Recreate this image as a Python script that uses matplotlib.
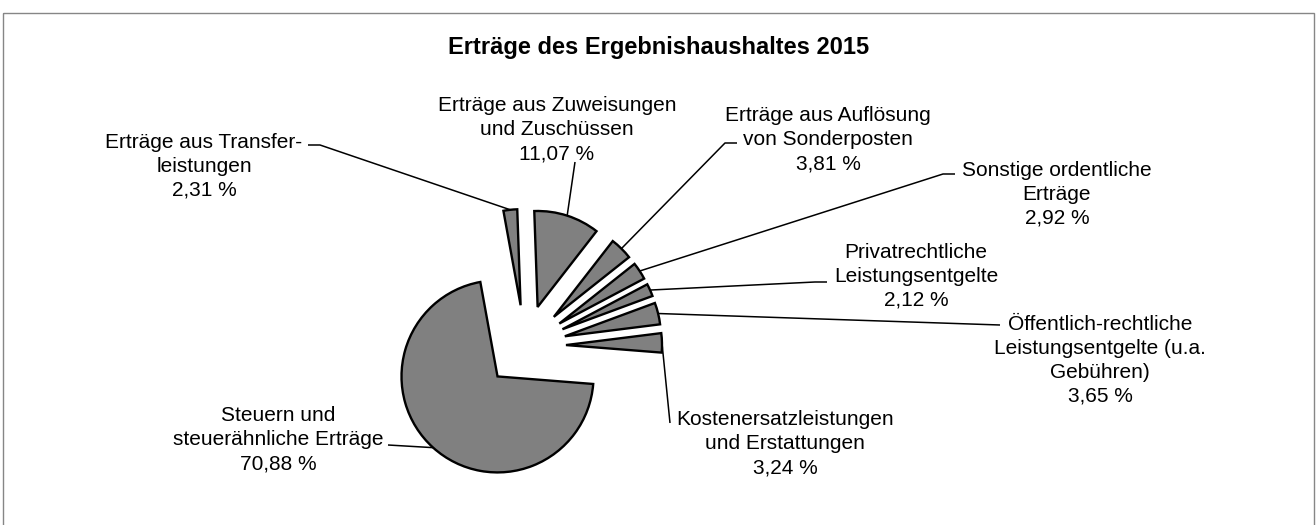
import numpy as np
import matplotlib.pyplot as plt
from matplotlib.patches import Rectangle

W, H = 1316, 525

# slices, clockwise starting near 12 o'clock
labels = [
    "Erträge aus Zuweisungen\nund Zuschüssen",
    "Erträge aus Auflösung\nvon Sonderposten",
    "Sonstige ordentliche\nErträge",
    "Privatrechtliche\nLeistungsentgelte",
    "Öffentlich-rechtliche\nLeistungsentgelte (u.a.\nGebühren)",
    "Kostenersatzleistungen\nund Erstattungen",
    "Steuern und\nsteuerähnliche Erträge",
    "Erträge aus Transfer-\nleistungen",
]
shares = [11.07, 3.81, 2.92, 2.12, 3.65, 3.24, 70.88, 2.31]
title = "Erträge des Ergebnishaushaltes 2015"

plt.rcParams['font.family'] = ['Liberation Sans', 'DejaVu Sans']

fig = plt.figure(figsize=(W / 100, H / 100), dpi=100)
ax = fig.add_axes([0, 0, 1, 1])

# work in pixel units, y axis pointing down (so pie angles are mirrored)
pie_center = (525, 346)
pie_radius = 96
explode_px = 41

wedges, _ = ax.pie(shares, center=pie_center, radius=pie_radius,
                   explode=[explode_px] * len(shares),
                   startangle=-92, counterclock=True,
                   colors=['#808080'] * len(shares),
                   wedgeprops=dict(edgecolor='black', linewidth=1.7))
ax.set_xlim(0, W)
ax.set_ylim(H, 0)
ax.set_aspect('auto')
ax.axis('off')

# label anchor (center x, baseline of last line) and leader route
text_pos = [(557, 159), (828, 169), (1057, 224), (916, 306),
            (1100, 402), (785, 473), (278, 469), (204, 196)]
routes = [
    [(575, 162)],
    [(725, 143), (737, 143)],
    [(943, 174), (955, 174)],
    [(815, 282), (827, 282)],
    [(1000, 325)],
    [(670, 423)],
    [(388, 445)],
    [(320, 145), (308, 145)],
]

for w, lab, val, (tx, ty), route in zip(wedges, labels, shares, text_pos, routes):
    mid = np.deg2rad((w.theta1 + w.theta2) / 2)
    x0 = w.center[0] + w.r * np.cos(mid)
    y0 = w.center[1] + w.r * np.sin(mid)
    xs = [x0] + [p[0] for p in route]
    ys = [y0] + [p[1] for p in route]
    ax.plot(xs, ys, color='black', lw=1.1, zorder=0.5, solid_capstyle='butt')
    txt = lab + "\n" + f"{val:.2f} %".replace('.', ',')
    ax.text(tx, ty, txt, ha='center', va='baseline', ma='center',
            fontsize=15, linespacing=1.33, color='black')

ax.text(W / 2 + 1, 54, title, ha='center', va='baseline', fontsize=17,
        fontweight='bold', color='black')

ax.add_patch(Rectangle((2.5, 12.5), 1311, 540, fill=False,
                       edgecolor='#868686', lw=1.0, clip_on=False))

fig.savefig('out.png', dpi=100)
